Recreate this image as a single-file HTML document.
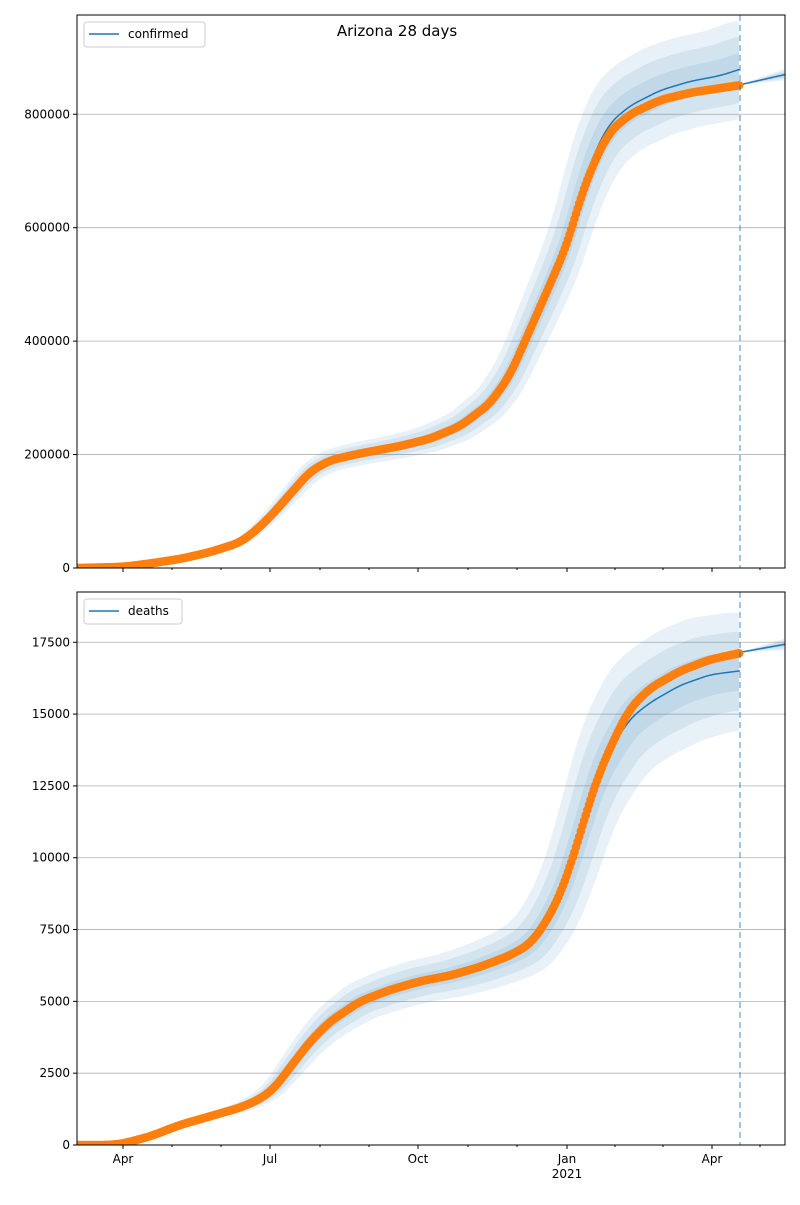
<!DOCTYPE html>
<html><head><meta charset="utf-8"><style>
body{margin:0;background:#fff;}
svg text{font-family:"DejaVu Sans","Liberation Sans",sans-serif;font-size:12px;fill:#000;}
</style></head><body>
<svg id="s" width="800" height="1200" xmlns="http://www.w3.org/2000/svg"></svg>
<script>
const S=document.getElementById('s');let h='';
function interp(pts,x){if(x<=pts[0][0])return pts[0][1];for(let i=1;i<pts.length;i++){if(x<=pts[i][0]){const a=pts[i-1],b=pts[i];return a[1]+(b[1]-a[1])*(x-a[0])/(b[0]-a[0]);}}return pts[pts.length-1][1];}
function smooth(pts,x){let s=0,n=0;for(let d=-8;d<=8;d+=1){s+=interp(pts,x+d);n++;}return s/n;}
const X0=77,X1=785,XD=740;let pid=0;
function panel(top,bot,ymax,ticks,dotsP,lineP,futP,lab,eK,dA,dB){
  const ys=v=>bot-(v/ymax)*(bot-top);
  pid++;
  h+=`<defs><clipPath id="c${pid}"><rect x="${X0}" y="${top}" width="${X1-X0}" height="${bot-top}"/></clipPath></defs>`;
  ticks.forEach(t=>{const y=ys(t);if(t>0)h+=`<line x1="${X0}" x2="${X1}" y1="${y}" y2="${y}" stroke="#b0b0b0" stroke-width="0.8"/>`;
    h+=`<line x1="${X0-4}" x2="${X0}" y1="${y}" y2="${y}" stroke="#000"/><text x="${X0-7}" y="${y+4}" text-anchor="end">${t}</text>`;});
  h+=`<g clip-path="url(#c${pid})">`;
  [1,2,3].forEach(k=>{let up=[],lo=[];
    for(let x=X0;x<=XD;x+=2){const f=(x-X0)/(XD-X0);const d=k*(dA+dB*f);const e=k*eK*Math.min(1,f*2.5);
      const xu=Math.min(x+d,XD+10),xl=x-d;
      up.push([x,ys(smooth(lineP,xu)*(1+e))]);lo.push([x,ys(Math.max(0,smooth(lineP,xl)*(1-e)))]);}
    h+=`<polygon fill="#1f77b4" fill-opacity="0.1" points="${up.map(p=>p.join(',')).join(' ')} ${lo.reverse().map(p=>p.join(',')).join(' ')}"/>`;
    let fu=[],fl=[];for(let x=XD;x<=X1;x+=2){const v=interp(futP,x);fu.push([x,ys(v*(1+0.004*k*(x-XD)/45))]);fl.push([x,ys(v*(1-0.004*k*(x-XD)/45))]);}
    h+=`<polygon fill="#1f77b4" fill-opacity="0.1" points="${fu.map(p=>p.join(',')).join(' ')} ${fl.reverse().map(p=>p.join(',')).join(' ')}"/>`;
  });
  let lp=[];for(let x=X0;x<=XD;x+=1)lp.push(x+','+ys(smooth(lineP,x)));
  h+=`<polyline fill="none" stroke="#1f77b4" stroke-width="1.5" points="${lp.join(' ')}"/>`;
  let fp=[];for(let x=XD;x<=X1;x+=1)fp.push(x+','+ys(interp(futP,x)));
  h+=`<polyline fill="none" stroke="#1f77b4" stroke-width="1.5" points="${fp.join(' ')}"/>`;
  for(let x=X0;x<=XD+0.1;x+=1.615)h+=`<circle cx="${x}" cy="${ys(smooth(dotsP,x))}" r="4.3" fill="#ff7f0e"/>`;
  h+=`</g>`;
  h+=`<line x1="${XD}" x2="${XD}" y1="${top}" y2="${bot}" stroke="#1f77b4" stroke-opacity="0.55" stroke-width="1.5" stroke-dasharray="6,4"/>`;
  h+=`<rect x="${X0}" y="${top}" width="${X1-X0}" height="${bot-top}" fill="none" stroke="#000" stroke-width="1"/>`;
  [[123,'Apr'],[270,'Jul'],[418,'Oct'],[567,'Jan'],[712,'Apr']].forEach(([x,t])=>{h+=`<line x1="${x}" x2="${x}" y1="${bot}" y2="${bot+4}" stroke="#000"/>`;if(lab)h+=`<text x="${x}" y="${bot+18}" text-anchor="middle">${t}</text>`;});
  [172,221,320,369,468,517,615,663,760].forEach(x=>h+=`<line x1="${x}" x2="${x}" y1="${bot}" y2="${bot+2}" stroke="#000"/>`);
  if(lab)h+=`<text x="567" y="${bot+33}" text-anchor="middle">2021</text>`;
}
const cD=[[77,0],[123,2000],[150,8000],[180,16000],[210,28000],[240,45000],[255,65000],[270,90000],[290,130000],[310,170000],[330,190000],[360,202000],[400,215000],[430,228000],[460,250000],[490,290000],[510,340000],[530,420000],[550,500000],[567,570000],[580,650000],[595,720000],[610,770000],[630,800000],[660,825000],[690,838000],[750,854000]];
const cLine=[[77,0],[123,2000],[150,8000],[180,16000],[210,28000],[240,45000],[255,65000],[270,90000],[290,130000],[310,170000],[330,190000],[360,202000],[400,215000],[430,228000],[460,250000],[490,290000],[510,340000],[530,420000],[550,500000],[567,575000],[580,660000],[595,735000],[610,785000],[630,815000],[660,842000],[690,858000],[720,868000],[750,885000]];
panel(15,568,975000,[0,200000,400000,600000,800000],cD,cLine,[[740,852000],[785,870000]],false,0.03,1,4.5);
const dD=[[77,0],[110,0],[123,50],[150,300],[180,700],[210,1000],[240,1300],[260,1600],[275,2000],[290,2700],[310,3600],[330,4300],[360,5000],[390,5400],[420,5700],[450,5900],[480,6200],[510,6600],[530,7000],[545,7700],[560,8700],[570,9700],[580,10800],[590,12000],[600,13000],[615,14200],[630,15200],[650,15900],[680,16500],[710,16900],[750,17200]];
const dLine=dD.map(p=>p[0]<600?p:[p[0],p[1]-Math.min(500,(p[0]-600)*12)]).map(p=>p[0]>=700?[p[0],p[1]-(p[0]-700)*3]:p);
panel(592,1145,19250,[0,2500,5000,7500,10000,12500,15000,17500],dD,dLine,[[740,17150],[785,17430]],true,0.04,1.5,6);
h+=`<rect x="84" y="22" width="121" height="25" rx="3" fill="#fff" fill-opacity="0.8" stroke="#ccc"/><line x1="89" x2="119" y1="34" y2="34" stroke="#1f77b4" stroke-width="1.5"/><text x="128" y="38">confirmed</text>`;
h+=`<rect x="84" y="599" width="98" height="25" rx="3" fill="#fff" fill-opacity="0.8" stroke="#ccc"/><line x1="89" x2="119" y1="611" y2="611" stroke="#1f77b4" stroke-width="1.5"/><text x="128" y="615">deaths</text>`;
h+=`<text x="397" y="36" text-anchor="middle" style="font-size:15px">Arizona 28 days</text>`;
S.innerHTML=h;
</script>
</body></html>
